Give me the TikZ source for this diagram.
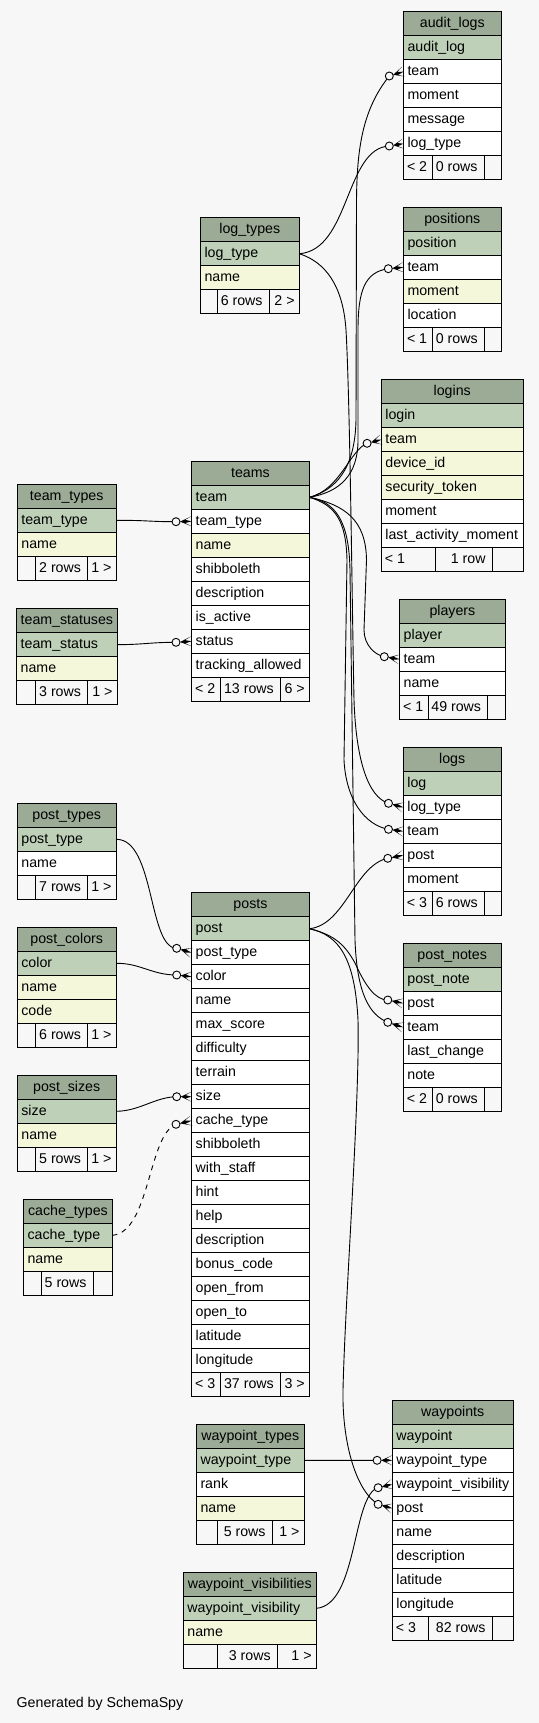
\documentclass[tikz,border=0pt]{standalone}
\usepackage{fontspec}
\setmainfont{Liberation Sans}
\usetikzlibrary{calc}
\definecolor{hdr}{HTML}{9BAB96}
\definecolor{pk}{HTML}{BED1B8}
\definecolor{idx}{HTML}{F4F7DA}
\definecolor{bg}{HTML}{F7F7F7}
\colorlet{wh}{white}
\tikzset{
  cellbox/.style={draw=black, line width=1bp, minimum height=24bp, inner sep=0pt, outer sep=0pt, anchor=north west},
  hdrbox/.style={cellbox, fill=hdr},
  footbox/.style={cellbox, fill=bg},
  txt/.style={inner sep=0pt, font=\fontsize{14.2bp}{17bp}\selectfont},
  edge/.style={draw=black, line width=0.9bp},
}
\newcommand{\mktable}[5]{%
  \node[hdrbox, minimum width=#4bp] (#1) at (#2,#3) {};
  \node[txt, anchor=base] (#1-title) at ({#2+#4/2},{#3+16}) {#5};
}
\newcommand{\mkrows}[5]{%
  \foreach [count=\i] \f/\t in {#5} {
    \node[cellbox, fill=\f, minimum width=#4bp] (#1-\i) at (#2,{#3+24*\i}) {};
    \node[txt, anchor=base west] (#1-\i-t) at ({#2+4},{#3+24*\i+16}) {\t};
  }
}
\newcommand{\mkfoot}[9]{%
  \node[footbox, minimum width={(#4-#2)*1bp}] (#1-fa) at (#2,#3) {};
  \node[footbox, minimum width={(#5-#4)*1bp}] (#1-fb) at (#4,#3) {};
  \node[footbox, minimum width={(#6-#5)*1bp}] (#1-fc) at (#5,#3) {};
  \node[txt, anchor=base west] (#1-fat) at ({#2+3.5},{#3+16}) {#7};
  \node[txt, anchor=base east] (#1-fbt) at ({#5-6.5},{#3+16}) {#8};
  \node[txt, anchor=base east] (#1-fct) at ({#6-4.5},{#3+16}) {#9};
}
\newcommand{\crowfoot}[2]{%
  \path ($(#1)!4bp!(#2)$) coordinate (cA)
        ($(#2)!5bp!90:(#1)$) coordinate (cP1)
        ($(#2)!5bp!-90:(#1)$) coordinate (cP2);
  \path ($(cA)!0.45!(#2)$) coordinate (cM);
  \path ($(cM)!1.6bp!-90:(#2)$) coordinate (cM1)
        ($(cM)!1.6bp!90:(#2)$) coordinate (cM2);
  \fill[black] (cA) -- (cP1) -- (cM1) -- (#2) -- (cM2) -- (cP2) -- cycle;
  \draw[edge, fill=bg] (#1) circle[radius=4bp];
}
\begin{document}
\begin{tikzpicture}[x=1bp,y=-1bp]
\fill[bg] (0,0) rectangle (539,1723);
\useasboundingbox (0,0) rectangle (539,1723);

% ---------- tables ----------
\mktable{auditlogs}{403.3}{11.7}{98}{audit\_logs}
\mkrows{auditlogs}{403.3}{11.7}{98}{pk/audit\_log, wh/team, wh/moment, wh/message, wh/log\_type}
\mkfoot{auditlogs}{403.3}{155.7}{432.7}{484.3}{501.3}{< 2}{0 rows}{}

\mktable{positions}{403.3}{207.3}{98}{positions}
\mkrows{positions}{403.3}{207.3}{98}{pk/position, wh/team, idx/moment, wh/location}
\mkfoot{positions}{403.3}{327.3}{432.5}{484.4}{501.3}{< 1}{0 rows}{}

\mktable{logtypes}{200.3}{217.7}{99}{log\_types}
\mkrows{logtypes}{200.3}{217.7}{99}{pk/log\_type, idx/name}
\mkfoot{logtypes}{200.3}{289.7}{217.7}{269.3}{299.3}{}{6 rows}{2 >}

\mktable{logins}{381.2}{379.7}{142}{logins}
\mkrows{logins}{381.2}{379.7}{142}{pk/login, idx/team, idx/device\_id, idx/security\_token, wh/moment, wh/last\_activity\_moment}
\mkfoot{logins}{381.2}{547.7}{435.2}{492.3}{523.2}{< 1}{1 row}{}

\mktable{teams}{191.5}{461.3}{117.9}{teams}
\mkrows{teams}{191.5}{461.3}{117.9}{pk/team, wh/team\_type, idx/name, wh/shibboleth, wh/description, wh/is\_active, wh/status, wh/tracking\_allowed}
\mkfoot{teams}{191.5}{677.3}{220.4}{280.5}{309.4}{< 2}{13 rows}{6 >}

\mktable{teamtypes}{17.2}{484.3}{99}{team\_types}
\mkrows{teamtypes}{17.2}{484.3}{99}{pk/team\_type, idx/name}
\mkfoot{teamtypes}{17.2}{556.3}{35.4}{87.7}{116.2}{}{2 rows}{1 >}

\mktable{teamstatuses}{16.5}{608.7}{100.7}{team\_statuses}
\mkrows{teamstatuses}{16.5}{608.7}{100.7}{pk/team\_status, idx/name}
\mkfoot{teamstatuses}{16.5}{680.7}{35.4}{87.7}{117.2}{}{3 rows}{1 >}

\mktable{players}{399.5}{599.3}{105.8}{players}
\mkrows{players}{399.5}{599.3}{105.8}{pk/player, wh/team, wh/name}
\mkfoot{players}{399.5}{695.3}{428.3}{487.8}{505.3}{< 1}{49 rows}{}

\mktable{logs}{403.2}{747.3}{98}{logs}
\mkrows{logs}{403.2}{747.3}{98}{pk/log, wh/log\_type, wh/team, wh/post, wh/moment}
\mkfoot{logs}{403.2}{891.3}{432.5}{484.4}{501.2}{< 3}{6 rows}{}

\mktable{posttypes}{17.2}{803.3}{99}{post\_types}
\mkrows{posttypes}{17.2}{803.3}{99}{pk/post\_type, wh/name}
\mkfoot{posttypes}{17.2}{875.3}{35.4}{87.7}{116.2}{}{7 rows}{1 >}

\mktable{posts}{191.5}{892.7}{117.9}{posts}
\mkrows{posts}{191.5}{892.7}{117.9}{pk/post, wh/post\_type, wh/color, wh/name, wh/max\_score, wh/difficulty, wh/terrain, wh/size, wh/cache\_type, wh/shibboleth, wh/with\_staff, wh/hint, wh/help, wh/description, wh/bonus\_code, wh/open\_from, wh/open\_to, wh/latitude, wh/longitude}
\mkfoot{posts}{191.5}{1372.7}{220.4}{280.5}{309.4}{< 3}{37 rows}{3 >}

\mktable{postcolors}{17.2}{927.3}{99}{post\_colors}
\mkrows{postcolors}{17.2}{927.3}{99}{pk/color, idx/name, idx/code}
\mkfoot{postcolors}{17.2}{1023.3}{35.4}{87.7}{116.2}{}{6 rows}{1 >}

\mktable{postnotes}{403.2}{943.3}{98}{post\_notes}
\mkrows{postnotes}{403.2}{943.3}{98}{pk/post\_note, wh/post, wh/team, wh/last\_change, wh/note}
\mkfoot{postnotes}{403.2}{1087.3}{432.5}{484.4}{501.2}{< 2}{0 rows}{}

\mktable{postsizes}{17.2}{1075.3}{99}{post\_sizes}
\mkrows{postsizes}{17.2}{1075.3}{99}{pk/size, idx/name}
\mkfoot{postsizes}{17.2}{1147.3}{35.4}{87.7}{116.2}{}{5 rows}{1 >}

\mktable{cachetypes}{23.4}{1199.3}{89}{cache\_types}
\mkrows{cachetypes}{23.4}{1199.3}{89}{pk/cache\_type, idx/name}
\mkfoot{cachetypes}{23.4}{1271.3}{41.3}{93.2}{112.4}{}{5 rows}{}

\mktable{waypoints}{392.2}{1400.3}{121}{waypoints}
\mkrows{waypoints}{392.2}{1400.3}{121}{pk/waypoint, wh/waypoint\_type, wh/waypoint\_visibility, wh/post, wh/name, wh/description, wh/latitude, wh/longitude}
\mkfoot{waypoints}{392.2}{1616.3}{428.3}{492.3}{513.2}{< 3}{82 rows}{}

\mktable{waypointtypes}{196.3}{1424.3}{107.9}{waypoint\_types}
\mkrows{waypointtypes}{196.3}{1424.3}{107.9}{pk/waypoint\_type, wh/rank, idx/name}
\mkfoot{waypointtypes}{196.3}{1520.3}{217.3}{272.3}{304.2}{}{5 rows}{1 >}

\mktable{waypointvis}{183.2}{1572.3}{133.1}{waypoint\_visibilities}
\mkrows{waypointvis}{183.2}{1572.3}{133.1}{pk/waypoint\_visibility, idx/name}
\mkfoot{waypointvis}{183.2}{1644.3}{217.3}{277.4}{316.3}{}{3 rows}{1 >}

\node[txt, anchor=base west] (credit) at (16.5,1707.5) {Generated by SchemaSpy};

% ---------- circle positions ----------
\coordinate (c1) at (389.3,76);
\coordinate (c2) at (389.3,146);
\coordinate (c3) at (388.3,268.7);
\coordinate (c4) at (367.1,443.3);
\coordinate (c5) at (384.3,656.7);
\coordinate (c6) at (388.5,803.3);
\coordinate (c7) at (388.5,829.3);
\coordinate (c8) at (387.8,858.3);
\coordinate (c9) at (387.8,1000);
\coordinate (c10) at (387.8,1022.3);
\coordinate (c11) at (176,521.7);
\coordinate (c12) at (176,642.3);
\coordinate (c13) at (176.7,948.3);
\coordinate (c14) at (176.7,975);
\coordinate (c15) at (176.7,1096.7);
\coordinate (c16) at (176,1124.3);
\coordinate (c17) at (377.1,1460.3);
\coordinate (c18) at (378.1,1487.7);
\coordinate (c19) at (378.1,1504.3);

% ---------- connectors ----------
\draw[edge] (teamtypes-1.east) .. controls (150,520.3) and (148,521.7) .. (c11);
\draw[edge] (teamstatuses-1.east) .. controls (145,644.5) and (150,642.3) .. (c12);
\draw[edge] (posttypes-1.east) .. controls (155,839) and (148,948) .. (c13);
\draw[edge] (postcolors-1.east) .. controls (140,963) and (152,975) .. (c14);
\draw[edge] (postsizes-1.east) .. controls (140,1111) and (155,1097) .. (c15);
\draw[edge, dash pattern=on 5bp off 5bp] (cachetypes-1.east) .. controls (150,1232) and (148,1135) .. (c16);
\draw[edge] (waypointtypes-1.east) -- (c17);
\draw[edge] (waypointvis-1.east) .. controls (358,1605) and (352,1495) .. (c18);

\draw[edge] (logtypes-1.east) .. controls (350,250) and (345,148) .. (c2);
\draw[edge] (logtypes-1.east) .. controls (325,262) and (343,285) .. (346,330)
   .. controls (350,400) and (352,600) .. (354,700)
   .. controls (356,760) and (368,797) .. (c6);

\draw[edge] (teams-1.east) .. controls (335,490) and (355,470) .. (356,420)
   -- (356.5,200) .. controls (357,150) and (362,110) .. (c1);
\draw[edge] (teams-1.east) .. controls (340,492) and (358,475) .. (358,440)
   -- (358,330) .. controls (358,290) and (365,272) .. (c3);
\draw[edge] (teams-1.east) .. controls (340,490) and (350,450) .. (c4);
\draw[edge] (teams-1.east) .. controls (345,505) and (366,520) .. (366.5,560)
   -- (364,630) .. controls (364,645) and (375,655) .. (c5);
\draw[edge] (teams-1.east) .. controls (335,505) and (346,520) .. (347,560)
   -- (344,760) .. controls (346,800) and (365,825) .. (c7);
\draw[edge] (teams-1.east) .. controls (335,502) and (349,520) .. (350,570)
   -- (355,940) .. controls (357,995) and (370,1015) .. (c10);

\draw[edge] (posts-1.east) .. controls (345,925) and (355,865) .. (c8);
\draw[edge] (posts-1.east) .. controls (335,935) and (345,945) .. (355,963)
   .. controls (365,985) and (375,1000) .. (c9);
\draw[edge] (posts-1.east) .. controls (340,935) and (355,960) .. (358,1020)
   .. controls (360,1100) and (345,1300) .. (343,1390)
   .. controls (342,1440) and (355,1490) .. (c19);

% ---------- crow's feet ----------
\crowfoot{c1}{auditlogs-2.west}
\crowfoot{c2}{auditlogs-5.west}
\crowfoot{c3}{positions-2.west}
\crowfoot{c4}{logins-2.west}
\crowfoot{c5}{players-2.west}
\crowfoot{c6}{logs-2.west}
\crowfoot{c7}{logs-3.west}
\crowfoot{c8}{logs-4.west}
\crowfoot{c9}{postnotes-2.west}
\crowfoot{c10}{postnotes-3.west}
\crowfoot{c11}{teams-2.west}
\crowfoot{c12}{teams-7.west}
\crowfoot{c13}{posts-2.west}
\crowfoot{c14}{posts-3.west}
\crowfoot{c15}{posts-8.west}
\crowfoot{c16}{posts-9.west}
\crowfoot{c17}{waypoints-2.west}
\crowfoot{c18}{waypoints-3.west}
\crowfoot{c19}{waypoints-4.west}
\end{tikzpicture}
\end{document}
